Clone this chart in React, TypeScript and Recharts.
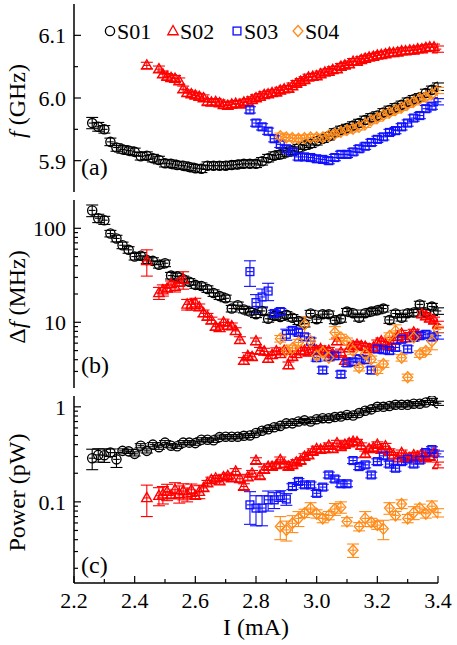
import React from "react";
import { ScatterChart, Scatter, XAxis, YAxis, ErrorBar, Legend } from "recharts";

const FONT = "Liberation Serif";

// ---- x values (I, mA) per sample
const s01I = [2.26, 2.28, 2.3, 2.32, 2.34, 2.36, 2.38, 2.4, 2.42, 2.44, 2.46, 2.48, 2.5, 2.52, 2.54, 2.56, 2.58, 2.6, 2.62, 2.64, 2.66, 2.68, 2.7, 2.72, 2.74, 2.76, 2.78, 2.8, 2.82, 2.84, 2.86, 2.88, 2.9, 2.92, 2.94, 2.96, 2.98, 3.0, 3.02, 3.04, 3.06, 3.08, 3.1, 3.12, 3.14, 3.16, 3.18, 3.2, 3.22, 3.24, 3.26, 3.28, 3.3, 3.32, 3.34, 3.36, 3.38, 3.4];
const s02I = [2.44, 2.48, 2.493, 2.507, 2.52, 2.533, 2.547, 2.56, 2.573, 2.587, 2.6, 2.613, 2.627, 2.64, 2.653, 2.667, 2.68, 2.693, 2.707, 2.72, 2.733, 2.747, 2.76, 2.773, 2.787, 2.8, 2.813, 2.827, 2.84, 2.853, 2.867, 2.88, 2.893, 2.907, 2.92, 2.933, 2.947, 2.96, 2.973, 2.987, 3.0, 3.013, 3.027, 3.04, 3.053, 3.067, 3.08, 3.093, 3.107, 3.12, 3.133, 3.147, 3.16, 3.173, 3.187, 3.2, 3.213, 3.227, 3.24, 3.253, 3.267, 3.28, 3.293, 3.307, 3.32, 3.333, 3.347, 3.36, 3.373, 3.387, 3.4];
const s03I = [2.78, 2.8, 2.82, 2.84, 2.86, 2.88, 2.9, 2.92, 2.94, 2.96, 2.98, 3.0, 3.02, 3.04, 3.06, 3.08, 3.1, 3.12, 3.14, 3.16, 3.18, 3.2, 3.22, 3.24, 3.26, 3.28, 3.3, 3.32, 3.34, 3.36, 3.38, 3.4];
const s04I = [2.88, 2.9, 2.92, 2.94, 2.96, 2.98, 3.0, 3.02, 3.04, 3.06, 3.08, 3.1, 3.12, 3.14, 3.16, 3.18, 3.2, 3.22, 3.24, 3.26, 3.28, 3.3, 3.32, 3.34, 3.36, 3.38, 3.4];

// ---- (a) frequency, GHz
const s01F = [5.96, 5.954, 5.95, 5.93, 5.921, 5.918, 5.916, 5.914, 5.907, 5.908, 5.904, 5.901, 5.896, 5.895, 5.893, 5.892, 5.89, 5.888, 5.887, 5.892, 5.892, 5.892, 5.892, 5.893, 5.894, 5.895, 5.895, 5.895, 5.899, 5.904, 5.908, 5.91, 5.913, 5.916, 5.92, 5.924, 5.927, 5.931, 5.935, 5.939, 5.945, 5.949, 5.952, 5.956, 5.96, 5.965, 5.969, 5.972, 5.977, 5.981, 5.985, 5.989, 5.994, 5.998, 6.001, 6.008, 6.013, 6.018];
const s02F = [6.052, 6.046, 6.038, 6.034, 6.032, 6.031, 6.027, 6.014, 6.008, 6.006, 6.004, 6.002, 6.0, 5.994, 5.993, 5.994, 5.992, 5.989, 5.988, 5.99, 5.991, 5.99, 5.993, 5.994, 5.997, 6.0, 6.002, 6.005, 6.006, 6.008, 6.009, 6.012, 6.014, 6.015, 6.019, 6.023, 6.026, 6.029, 6.033, 6.034, 6.035, 6.038, 6.041, 6.042, 6.045, 6.046, 6.05, 6.052, 6.054, 6.058, 6.058, 6.061, 6.063, 6.065, 6.066, 6.068, 6.069, 6.07, 6.072, 6.072, 6.073, 6.075, 6.075, 6.076, 6.076, 6.078, 6.078, 6.08, 6.081, 6.081, 6.078];
const s03F = [5.981, 5.96, 5.954, 5.947, 5.935, 5.926, 5.919, 5.914, 5.906, 5.906, 5.905, 5.903, 5.902, 5.9, 5.905, 5.91, 5.91, 5.914, 5.919, 5.923, 5.929, 5.934, 5.938, 5.945, 5.948, 5.954, 5.96, 5.968, 5.972, 5.983, 5.987, 5.994];
const s04F = [5.939, 5.937, 5.936, 5.935, 5.936, 5.937, 5.937, 5.937, 5.94, 5.943, 5.946, 5.949, 5.951, 5.954, 5.958, 5.964, 5.968, 5.973, 5.977, 5.981, 5.985, 5.99, 5.994, 5.999, 6.002, 6.006, 6.012];

// ---- (b) linewidth, MHz
const s01Df = [155, 128, 122, 88, 78, 66, 59, 50, 51, 46, 45, 41, 42.5, 31.4, 30.8, 28.7, 27, 25, 24.3, 22.6, 20.5, 19, 18, 14, 15.2, 13.7, 13, 12.2, 13.2, 10.9, 11.7, 11.4, 12, 11.2, 10.3, 9.7, 12.4, 10.8, 12.2, 12.2, 10.5, 10.9, 13, 12.5, 11.2, 12.5, 13, 13.4, 14, 10.6, 12.4, 11.2, 12.5, 12.7, 15.5, 12.7, 14.7, 13.2];
const s02Df = [45, 20.5, 22, 23, 25.5, 24, 26.5, 28.5, 15.5, 15.5, 16, 14.5, 12.5, 11.5, 10.5, 9, 8.7, 10, 9.2, 9.1, 8.1, 6.5, 3.9, 4.4, 4.3, 6.3, 5, 4.9, 4.1, 4.5, 4.95, 4.6, 5, 3.5, 4.3, 4.6, 4.95, 5, 4.8, 5.2, 5, 5.2, 4.9, 5, 4.6, 6.3, 4.8, 3.9, 5.3, 5.6, 5.8, 5.6, 5.5, 5.2, 5.4, 6, 6.3, 5.8, 5.6, 6.4, 7, 7.6, 6.8, 7.2, 7.8, 7.4, 12.2, 11.6, 11, 10.5, 9.5];
const s03Df = [34.6, 16.2, 18.6, 21.5, 12.4, 13, 7.45, 8.2, 7.8, 7, 6.3, 4.2, 3.1, 4.3, 4.4, 2.8, 3.7, 3.8, 4.1, 4, 3.1, 5.2, 5.1, 5, 5.4, 6.6, 5.2, 6.9, 7.2, 7.45, 7, 7.2];
const s04Df = [6.7, 5, 5.3, 6.1, 9.5, 6.3, 4.4, 4.8, 4.2, 7.8, 6.9, 6.3, 4.95, 3.3, 4.6, 4.05, 3.1, 3.6, 7.15, 8.1, 4.2, 2.6, 6.9, 4.6, 4.95, 6.3, 8.4];

// ---- (c) power, pW
const s01P = [0.288, 0.312, 0.31, 0.33, 0.28, 0.344, 0.34, 0.32, 0.39, 0.344, 0.4, 0.376, 0.42, 0.39, 0.385, 0.42, 0.42, 0.415, 0.45, 0.45, 0.445, 0.48, 0.485, 0.485, 0.485, 0.495, 0.5, 0.53, 0.56, 0.58, 0.61, 0.63, 0.67, 0.67, 0.7, 0.72, 0.7, 0.74, 0.76, 0.76, 0.78, 0.79, 0.82, 0.81, 0.86, 0.91, 0.94, 1.0, 1.0, 1.02, 1.05, 1.05, 1.05, 1.08, 1.08, 1.11, 1.17, 1.09];
const s02P = [0.11, 0.116, 0.12, 0.128, 0.118, 0.134, 0.122, 0.13, 0.12, 0.134, 0.116, 0.128, 0.14, 0.157, 0.17, 0.177, 0.165, 0.182, 0.188, 0.178, 0.209, 0.175, 0.145, 0.182, 0.2, 0.272, 0.188, 0.218, 0.235, 0.235, 0.245, 0.277, 0.25, 0.235, 0.245, 0.26, 0.272, 0.3, 0.31, 0.338, 0.36, 0.355, 0.36, 0.39, 0.36, 0.415, 0.38, 0.4, 0.415, 0.43, 0.425, 0.39, 0.32, 0.36, 0.37, 0.4, 0.355, 0.385, 0.338, 0.31, 0.288, 0.328, 0.3, 0.288, 0.31, 0.3, 0.32, 0.288, 0.3, 0.328, 0.245];
const s03P = [0.093, 0.086, 0.086, 0.105, 0.105, 0.116, 0.107, 0.145, 0.164, 0.151, 0.151, 0.123, 0.143, 0.192, 0.174, 0.155, 0.155, 0.272, 0.235, 0.245, 0.192, 0.265, 0.305, 0.25, 0.226, 0.265, 0.282, 0.25, 0.275, 0.33, 0.355, 0.32];
const s04P = [0.055, 0.0507, 0.0595, 0.067, 0.076, 0.086, 0.075, 0.067, 0.072, 0.084, 0.088, 0.062, 0.031, 0.055, 0.067, 0.061, 0.057, 0.052, 0.086, 0.072, 0.095, 0.067, 0.077, 0.086, 0.075, 0.09, 0.077];

// ---- larger error bars that stand out (index -> half width)
const s01FErr: Record<number, number> = { 0: 0.009, 1: 0.007 };
const s01DfErr: Record<number, number> = { 0: 22, 1: 13, 2: 12, 3: 7 };
const s02DfErr: Record<number, number> = { 0: 14, 1: 3, 2: 3, 5: 3, 7: 6, 8: 2, 9: 2, 10: 2 };
const s03DfErr: Record<number, number> = { 0: 10.5, 1: 3.5, 2: 4, 3: 4.5, 6: 1 };
const s04DfErr: Record<number, number> = { 4: 2, 9: 1.2, 19: 1.3, 25: 1.2 };
const s01PErr: Record<number, number> = { 0: 0.07, 1: 0.05, 2: 0.05, 3: 0.03, 4: 0.05 };
const s02PErr: Record<number, number> = { 0: 0.04, 1: 0.025, 2: 0.025, 3: 0.025, 5: 0.025, 6: 0.025, 7: 0.025, 8: 0.02, 9: 0.02, 11: 0.02 };
const s03PErr: Record<number, number> = { 0: 0.035, 1: 0.03, 2: 0.03, 3: 0.025, 4: 0.02, 5: 0.015, 6: 0.015 };
const s04PErr: Record<number, number> = { 0: 0.015, 1: 0.012, 2: 0.012, 3: 0.012, 5: 0.012, 9: 0.012, 10: 0.012, 12: 0.005, 14: 0.012, 17: 0.012, 18: 0.012, 20: 0.01, 22: 0.012, 25: 0.012 };

const xMajor = [2.2, 2.4, 2.6, 2.8, 3.0, 3.2, 3.4];
const xTicks = [2.2, 2.3, 2.4, 2.5, 2.6, 2.7, 2.8, 2.9, 3.0, 3.1, 3.2, 3.3, 3.4];

type Kind = "circle" | "triangle" | "square" | "diamond";
const SERIES: { name: string; color: string; kind: Kind }[] = [
  { name: "S01", color: "#000000", kind: "circle" },
  { name: "S02", color: "#ff0000", kind: "triangle" },
  { name: "S03", color: "#1010ff", kind: "square" },
  { name: "S04", color: "#ff8c1a", kind: "diamond" },
];

const rows = (xs: number[], ys: number[], big: Record<number, number>, def: number, rel: boolean) =>
  xs.map((x, i) => ({ x, y: ys[i], ey: big[i] ?? (rel ? ys[i] * def : def), ex: 0.011 }));

const Marker = ({ cx, cy, kind, color }: { cx: number; cy: number; kind: Kind; color: string }) => {
  const p = { fill: "none", stroke: color, strokeWidth: 1.35 };
  if (kind === "circle") return <circle cx={cx} cy={cy} r={4.6} {...p} />;
  if (kind === "triangle") return <path d={`M${cx},${cy - 5.5}L${cx + 5.2},${cy + 3.7}L${cx - 5.2},${cy + 3.7}Z`} {...p} />;
  if (kind === "square") return <rect x={cx - 3.9} y={cy - 3.9} width={7.8} height={7.8} {...p} />;
  return <path d={`M${cx},${cy - 5.5}L${cx + 4.9},${cy}L${cx},${cy + 5.5}L${cx - 4.9},${cy}Z`} {...p} />;
};

const M = 8;
const makeTick = (side: "bottom" | "top" | "left" | "right", major: number[], fmt: ((v: number) => string) | null) =>
  (props: any) => {
    const { x, y, payload } = props;
    const v = payload.value as number;
    const isMajor = major.some((m) => Math.abs(m - v) < 1e-9);
    const len = isMajor ? 7 : 4;
    const st = { stroke: "#000", strokeWidth: 1.2 };
    let line = null;
    let label = null;
    if (side === "bottom") {
      const y0 = y - M;
      line = <line x1={x} x2={x} y1={y0} y2={y0 - len} {...st} />;
      if (fmt && isMajor) label = <text x={x} y={y} dy="0.75em" textAnchor="middle" fontSize={22} fontFamily={FONT} fill="#000">{fmt(v)}</text>;
    } else if (side === "top") {
      const y0 = y + M;
      line = <line x1={x} x2={x} y1={y0} y2={y0 + len} {...st} />;
    } else if (side === "left") {
      const x0 = x + M;
      line = <line x1={x0} x2={x0 + len} y1={y} y2={y} {...st} />;
      if (fmt && isMajor) label = <text x={x} y={y} dy="0.36em" textAnchor="end" fontSize={22} fontFamily={FONT} fill="#000">{fmt(v)}</text>;
    } else {
      const x0 = x - M;
      line = <line x1={x0} x2={x0 - len} y1={y} y2={y} {...st} />;
    }
    return <g>{line}{label}</g>;
  };

const YTitle = ({ viewBox, children }: any) => {
  const cy = viewBox.y + viewBox.height / 2 + 3;
  return (
    <text transform={`translate(25,${cy}) rotate(-90)`} textAnchor="middle" fontSize={24} fontFamily={FONT} fill="#000">
      {children}
    </text>
  );
};

const XTitle = ({ viewBox }: any) => (
  <text x={viewBox.x + viewBox.width / 2} y={viewBox.y + 52} textAnchor="middle" fontSize={24} fontFamily={FONT} fill="#000">
    I (mA)
  </text>
);

const LegendBox = () => {
  const pos = [8, 71, 135, 196];
  return (
    <svg width={270} height={26} style={{ display: "block" }}>
      {SERIES.map((s, i) => (
        <g key={s.name}>
          <Marker cx={pos[i]} cy={13} kind={s.kind} color={s.color} />
          <text x={pos[i] + 7} y={13} dy="0.36em" fontSize={22} fontFamily={FONT} fill="#000">{s.name}</text>
        </g>
      ))}
    </svg>
  );
};

type PanelProps = {
  top: number;
  height: number;
  marginBottom: number;
  yDomain: [number, number];
  log: boolean;
  yTicks: number[];
  yMajor: number[];
  yFmt: (v: number) => string;
  title: React.ReactNode;
  tag: string;
  tagY: number;
  data: ReturnType<typeof rows>[];
  showX: boolean;
  legend?: boolean;
};

const AXIS_LINE = { stroke: "#000", strokeWidth: 1.5 };

const Panel = (p: PanelProps) => (
  <div style={{ position: "absolute", left: 0, top: p.top }}>
    <ScatterChart width={457} height={p.height} margin={{ top: 4, right: 19, bottom: p.marginBottom, left: 0 }}>
      <XAxis xAxisId="b" type="number" dataKey="x" domain={[2.2, 3.4]} allowDataOverflow ticks={xTicks} interval={0}
        height={p.showX ? 62 : 0} tickLine={false} tickSize={0} tickMargin={M} axisLine={AXIS_LINE}
        tick={makeTick("bottom", xMajor, p.showX ? (v) => v.toFixed(1) : null)}
        label={p.showX ? <XTitle /> : undefined} />
      <XAxis xAxisId="t" orientation="top" type="number" dataKey="x" domain={[2.2, 3.4]} allowDataOverflow ticks={xTicks}
        interval={0} height={0} tickLine={false} tickSize={0} tickMargin={M} axisLine={AXIS_LINE}
        tick={makeTick("top", xMajor, null)} />
      <YAxis yAxisId="l" type="number" dataKey="y" scale={p.log ? "log" : "linear"} domain={p.yDomain} allowDataOverflow
        ticks={p.yTicks} interval={0} width={74} tickLine={false} tickSize={0} tickMargin={M} axisLine={AXIS_LINE}
        tick={makeTick("left", p.yMajor, p.yFmt)} label={<YTitle>{p.title}</YTitle>} />
      <YAxis yAxisId="r" orientation="right" type="number" dataKey="y" scale={p.log ? "log" : "linear"} domain={p.yDomain}
        allowDataOverflow ticks={p.yTicks} interval={0} width={0} tickLine={false} tickSize={0} tickMargin={M}
        axisLine={AXIS_LINE} tick={makeTick("right", p.yMajor, null)} />
      {SERIES.map((s, i) => (
        <Scatter key={s.name} name={s.name} xAxisId="b" yAxisId="l" data={p.data[i]} isAnimationActive={false}
          shape={(sp: any) => <Marker cx={sp.cx} cy={sp.cy} kind={s.kind} color={s.color} />}>
          <ErrorBar dataKey="ey" direction="y" width={6} stroke={s.color} strokeWidth={1.1} isAnimationActive={false} />
          <ErrorBar dataKey="ex" direction="x" width={0} stroke={s.color} strokeWidth={1.1} isAnimationActive={false} />
        </Scatter>
      ))}
      {p.legend && (
        <Legend layout="horizontal" verticalAlign="middle" align="center"
          wrapperStyle={{ top: 18, left: 102, width: 270, height: 26 }} content={() => <LegendBox />} />
      )}
      <text x={81} y={p.tagY} fontSize={24} fontFamily={FONT} fill="#000">{p.tag}</text>
    </ScatterChart>
  </div>
);

const fDomain: [number, number] = [5.85, 6.15];
const dfDomain: [number, number] = [2, 200];
const pDomain: [number, number] = [0.014, 1.3];

export default function App() {
  const dataA = [
    rows(s01I, s01F, s01FErr, 0.006, false),
    rows(s02I, s02F, {}, 0.005, false),
    rows(s03I, s03F, {}, 0.005, false),
    rows(s04I, s04F, {}, 0.005, false),
  ];
  const dataB = [
    rows(s01I, s01Df, s01DfErr, 0.08, true),
    rows(s02I, s02Df, s02DfErr, 0.08, true),
    rows(s03I, s03Df, s03DfErr, 0.08, true),
    rows(s04I, s04Df, s04DfErr, 0.08, true),
  ];
  const dataC = [
    rows(s01I, s01P, s01PErr, 0.05, true),
    rows(s02I, s02P, s02PErr, 0.07, true),
    rows(s03I, s03P, s03PErr, 0.07, true),
    rows(s04I, s04P, s04PErr, 0.1, true),
  ];
  return (
    <div style={{ position: "absolute", left: 0, top: 0, width: 457, height: 645, background: "#fff" }}>
      <Panel top={0} height={200} marginBottom={8} yDomain={fDomain} log={false}
        yTicks={[5.9, 5.95, 6.0, 6.05, 6.1]} yMajor={[5.9, 6.0, 6.1]} yFmt={(v) => v.toFixed(1)}
        title={<><tspan fontStyle="italic">f</tspan> (GHz)</>} tag="(a)" tagY={175} data={dataA} showX={false} legend />
      <Panel top={196} height={196} marginBottom={4} yDomain={dfDomain} log
        yTicks={[3, 4, 5, 6, 7, 8, 9, 10, 20, 30, 40, 50, 60, 70, 80, 90, 100]} yMajor={[10, 100]} yFmt={(v) => String(v)}
        title={<>{"\u0394"}<tspan fontStyle="italic">f</tspan> (MHz)</>} tag="(b)" tagY={177} data={dataB} showX={false} />
      <Panel top={392} height={253} marginBottom={0} yDomain={pDomain} log
        yTicks={[0.02, 0.03, 0.04, 0.05, 0.06, 0.07, 0.08, 0.09, 0.1, 0.2, 0.3, 0.4, 0.5, 0.6, 0.7, 0.8, 0.9, 1]}
        yMajor={[0.1, 1]} yFmt={(v) => String(v)}
        title="Power (pW)" tag="(c)" tagY={181} data={dataC} showX />
    </div>
  );
}
